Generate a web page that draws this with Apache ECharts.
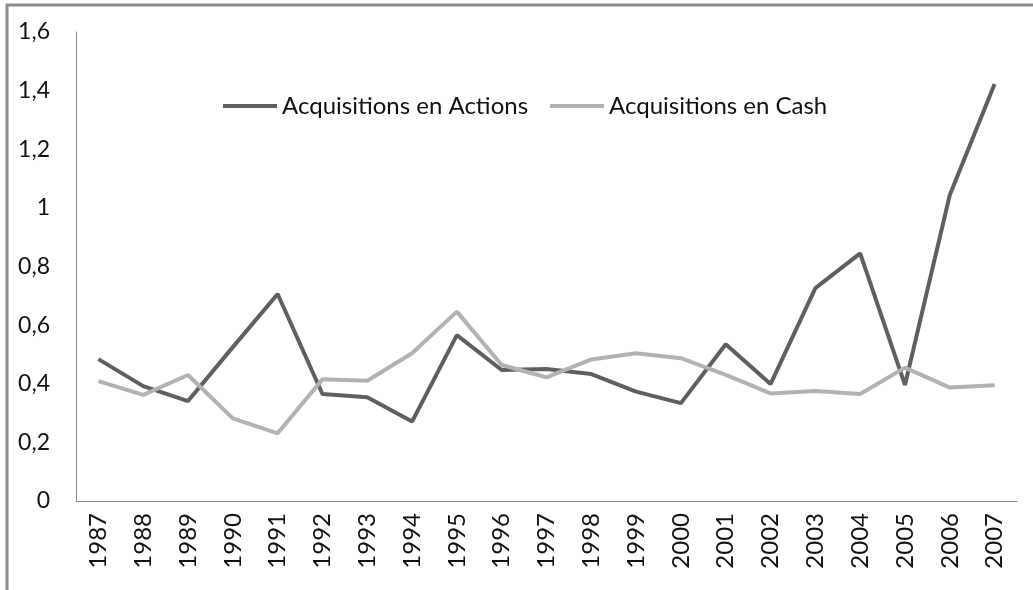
<!DOCTYPE html>
<html>
<head>
<meta charset="utf-8">
<script src="https://cdn.jsdelivr.net/npm/echarts@6/dist/echarts.min.js"></script>
<style>
  html, body { margin: 0; padding: 0; background: #fff; }
  #chart { width: 1033px; height: 590px; }
</style>
</head>
<body>
<div id="chart"></div>
<script>
var years = ['1987','1988','1989','1990','1991','1992','1993','1994','1995','1996','1997',
             '1998','1999','2000','2001','2002','2003','2004','2005','2006','2007'];
var actions = [0.484, 0.392, 0.341, 0.525, 0.706, 0.365, 0.354, 0.271, 0.566, 0.447, 0.450,
               0.433, 0.373, 0.334, 0.535, 0.399, 0.726, 0.845, 0.396, 1.044, 1.423];
var cash = [0.409, 0.362, 0.430, 0.282, 0.231, 0.415, 0.410, 0.504, 0.646, 0.464, 0.422,
            0.483, 0.504, 0.487, 0.430, 0.367, 0.375, 0.365, 0.455, 0.387, 0.395];
var seriesNames = ['Acquisitions en Actions', 'Acquisitions en Cash'];

var fontFam = 'Lato, "Open Sans", sans-serif';

var myChart = echarts.init(document.getElementById('chart'));

var option = {
  animation: false,
  backgroundColor: '#fff',
  // cadre gris en haut et a gauche
  graphic: [{
    type: 'polyline',
    shape: { points: [[7, 590], [7, 5], [1033, 5]] },
    style: { stroke: '#8c8c8c', lineWidth: 3, fill: null },
    silent: true
  }],
  grid: { left: 76, right: 16, top: 32, bottom: 89 },
  legend: {
    left: 218,
    top: 89,
    icon: 'rect',
    itemWidth: 54,
    itemHeight: 4,
    itemGap: 22,
    textStyle: { fontFamily: fontFam, fontSize: 24, color: '#111' },
    data: seriesNames
  },
  xAxis: {
    type: 'category',
    data: years,
    boundaryGap: true,
    axisLine: { lineStyle: { color: '#868686', width: 1 } },
    axisTick: { show: false },
    axisLabel: {
      rotate: 90,
      margin: 12,
      fontFamily: fontFam,
      fontSize: 24,
      color: '#111',
      interval: 0
    }
  },
  yAxis: {
    type: 'value',
    min: 0,
    max: 1.6,
    interval: 0.2,
    axisLine: { show: true, lineStyle: { color: '#868686', width: 1 } },
    axisTick: { show: false },
    splitLine: { show: false },
    axisLabel: {
      margin: 26,
      fontFamily: fontFam,
      fontSize: 23,
      color: '#111',
      formatter: function (v) {
        return String(Math.round(v * 10) / 10).replace('.', ',');
      }
    }
  },
  series: [
    {
      name: seriesNames[0],
      type: 'line',
      data: actions,
      symbol: 'none',
      lineStyle: { color: '#5f5f5f', width: 4 },
      itemStyle: { color: '#5f5f5f' }
    },
    {
      name: seriesNames[1],
      type: 'line',
      data: cash,
      symbol: 'none',
      lineStyle: { color: '#b2b2b2', width: 4 },
      itemStyle: { color: '#b2b2b2' }
    }
  ]
};

myChart.setOption(option);

window.addEventListener('resize', function () {
  myChart.resize();
});
</script>
</body>
</html>
